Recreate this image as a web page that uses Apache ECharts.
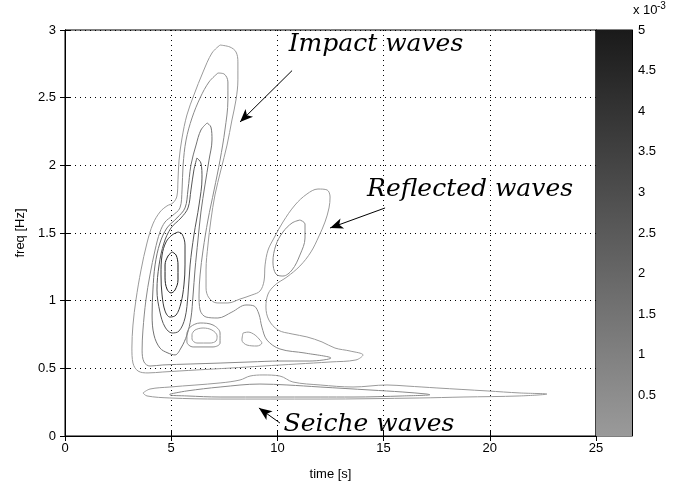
<!DOCTYPE html>
<html><head><meta charset="utf-8">
<script src="https://cdn.jsdelivr.net/npm/echarts@6/dist/echarts.min.js"></script>
<style>html,body{margin:0;padding:0;background:#fff}#c{width:682px;height:489px}</style>
</head><body><div id="c"></div>
<script>
// ---- data (time [s], freq [Hz]) ----
var xTicks = [0, 5, 10, 15, 20, 25];
var yTicks = [0, 0.5, 1, 1.5, 2, 2.5, 3];
var cbTicks = [0.5, 1, 1.5, 2, 2.5, 3, 3.5, 4, 4.5, 5];

// grey of each contour level (lowest level first)
var levelColors = ['#9a9a9a', '#8a8a8a', '#727272', '#565656', '#3a3a3a', '#1e1e1e'];

var c1 = [[7.30,2.889],[7.77,2.874],[8.05,2.838],[8.14,2.764],[8.14,2.631],[8.05,2.483],[7.86,2.335],[7.63,2.150],[7.34,1.966],[7.06,1.781],[6.87,1.596],[6.73,1.411],[6.64,1.227],[6.64,1.094],[6.78,1.020],[7.16,0.983],[7.67,0.983],[8.24,1.012],[8.80,1.042],[9.18,1.071],[9.37,1.145],[9.42,1.264],[9.56,1.374],[9.84,1.463],[10.26,1.581],[10.83,1.707],[11.39,1.788],[11.91,1.825],[12.34,1.818],[12.48,1.766],[12.43,1.685],[12.24,1.581],[11.96,1.478],[11.58,1.360],[11.06,1.256],[10.45,1.175],[9.89,1.116],[9.56,1.049],[9.46,0.953],[9.60,0.857],[10.03,0.783],[10.69,0.754],[11.39,0.732],[12.10,0.695],[12.71,0.650],[13.42,0.628],[14.03,0.599],[13.70,0.562],[12.48,0.547],[10.92,0.532],[9.32,0.517],[7.77,0.502],[6.21,0.488],[4.61,0.473],[3.91,0.466],[3.44,0.480],[3.20,0.539],[3.15,0.650],[3.20,0.820],[3.34,1.005],[3.58,1.227],[3.86,1.426],[4.14,1.567],[4.47,1.655],[4.80,1.700],[5.08,1.722],[5.27,1.773],[5.32,1.892],[5.37,2.039],[5.51,2.202],[5.74,2.372],[6.07,2.520],[6.50,2.690],[6.92,2.830],[7.30,2.889]];
var c2 = [[7.20,2.682],[7.49,2.675],[7.67,2.616],[7.67,2.483],[7.53,2.261],[7.30,2.039],[7.02,1.818],[6.73,1.596],[6.50,1.374],[6.36,1.190],[6.31,1.042],[6.36,0.931],[6.64,0.879],[7.20,0.872],[7.86,0.916],[8.52,0.968],[8.90,0.961],[9.13,0.901],[9.27,0.805],[9.51,0.709],[10.12,0.643],[11.30,0.613],[12.52,0.576],[11.53,0.554],[10.12,0.554],[8.71,0.547],[7.30,0.539],[5.89,0.532],[4.61,0.525],[4.00,0.517],[3.72,0.547],[3.63,0.635],[3.67,0.783],[3.81,1.005],[4.00,1.190],[4.24,1.374],[4.47,1.507],[4.71,1.581],[5.04,1.626],[5.41,1.685],[5.51,1.818],[5.56,2.003],[5.70,2.187],[5.98,2.350],[6.36,2.498],[6.78,2.616],[7.20,2.682]];
var c3 = [[6.69,2.313],[6.87,2.283],[6.92,2.187],[6.78,2.039],[6.59,1.855],[6.40,1.655],[6.26,1.448],[6.12,1.227],[6.03,1.042],[5.93,0.872],[5.74,0.746],[5.46,0.650],[5.18,0.599],[4.85,0.613],[4.47,0.650],[4.19,0.746],[4.10,0.894],[4.14,1.079],[4.24,1.264],[4.47,1.426],[4.80,1.537],[5.27,1.611],[5.65,1.685],[5.79,1.818],[5.93,2.003],[6.17,2.150],[6.40,2.261],[6.69,2.313]];
var c4 = [[6.21,2.054],[6.40,2.017],[6.45,1.906],[6.31,1.707],[6.07,1.485],[5.89,1.264],[5.79,1.042],[5.65,0.872],[5.37,0.776],[5.04,0.761],[4.71,0.805],[4.47,0.916],[4.33,1.079],[4.43,1.264],[4.66,1.426],[4.99,1.537],[5.46,1.611],[5.79,1.685],[5.93,1.818],[6.07,1.966],[6.21,2.054]];
var c5 = [[5.32,1.507],[5.51,1.493],[5.65,1.411],[5.65,1.264],[5.60,1.116],[5.46,0.983],[5.23,0.894],[4.94,0.879],[4.71,0.924],[4.57,1.042],[4.52,1.190],[4.57,1.337],[4.76,1.434],[5.04,1.485],[5.32,1.507]];
var c6 = [[5.04,1.360],[5.23,1.337],[5.32,1.264],[5.32,1.153],[5.18,1.079],[4.99,1.057],[4.80,1.086],[4.71,1.168],[4.71,1.264],[4.85,1.330],[5.04,1.360]];
var reflInner = [[11.06,1.596],[11.30,1.567],[11.30,1.463],[11.06,1.337],[10.69,1.227],[10.26,1.182],[9.93,1.197],[9.79,1.286],[9.93,1.411],[10.26,1.507],[10.69,1.574],[11.06,1.596]];
var loopA = [[5.74,0.761],[5.89,0.805],[6.36,0.835],[6.97,0.820],[7.30,0.761],[7.30,0.687],[6.97,0.658],[6.03,0.658],[5.74,0.695],[5.74,0.761]];
var loopB = [[5.98,0.754],[6.12,0.783],[6.50,0.798],[6.92,0.783],[7.16,0.739],[7.11,0.702],[6.83,0.687],[6.21,0.687],[5.98,0.717],[5.98,0.754]];
var loopC = [[8.38,0.761],[8.62,0.768],[8.95,0.746],[9.18,0.709],[9.27,0.687],[9.04,0.665],[8.57,0.672],[8.33,0.709],[8.38,0.761]];
var seicheOuter = [[3.67,0.318],[4.00,0.347],[4.94,0.362],[7.30,0.392],[8.24,0.414],[8.71,0.443],[9.32,0.451],[10.12,0.443],[10.73,0.399],[12.01,0.377],[13.56,0.362],[15.16,0.377],[16.10,0.369],[17.51,0.355],[19.87,0.333],[21.42,0.318],[22.69,0.310],[21.42,0.296],[18.74,0.288],[16.71,0.281],[12.01,0.273],[7.30,0.273],[4.94,0.281],[3.86,0.296],[3.67,0.318]];
var seicheInner = [[4.94,0.310],[5.74,0.333],[7.30,0.362],[9.18,0.384],[10.45,0.377],[12.01,0.362],[14.36,0.340],[15.91,0.325],[17.04,0.310],[17.18,0.305],[15.91,0.296],[13.56,0.288],[12.01,0.288],[7.30,0.288],[5.74,0.296],[4.94,0.303],[4.94,0.310]];

var contours = [
  {pts: c1, lvl: 0}, {pts: c2, lvl: 1}, {pts: c3, lvl: 2}, {pts: c4, lvl: 3},
  {pts: c5, lvl: 4}, {pts: c6, lvl: 5}, {pts: reflInner, lvl: 1},
  {pts: loopA, lvl: 1}, {pts: loopB, lvl: 0}, {pts: loopC, lvl: 0},
  {pts: seicheOuter, lvl: 0}, {pts: seicheInner, lvl: 1}
];

// annotation arrows: [start, end] in data units
var arrows = [
  [[10.69, 2.70], [8.24, 2.32]],
  [[15.07, 1.685], [12.48, 1.537]],
  [[10.12, 0.096], [9.13, 0.207]]
];
var labels = [
  {text: 'Impact waves', x: 14.64, y: 2.80},
  {text: 'Reflected waves', x: 19.07, y: 1.73},
  {text: 'Seiche waves', x: 14.31, y: -0.005}
];

var chart = echarts.init(document.getElementById('c'), null, {renderer: 'canvas'});
var series = contours.map(function (c) {
  return {
    type: 'line', xAxisIndex: 0, yAxisIndex: 0, data: c.pts, showSymbol: false, smooth: 0.35,
    lineStyle: {color: levelColors[c.lvl], width: 1}, silent: true, z: 3
  };
});
series.push({
  type: 'line', xAxisIndex: 0, yAxisIndex: 0, data: [], silent: true,
  markLine: {
    silent: true, animation: false, symbol: ['none', 'arrow'], symbolSize: [8, 13],
    label: {show: false},
    lineStyle: {color: '#000', width: 1, type: 'solid'},
    data: arrows.map(function (a) { return [{coord: a[0]}, {coord: a[1]}]; })
  }
});
series.push({
  type: 'bar', xAxisIndex: 1, yAxisIndex: 1, data: [5], barWidth: '100%', silent: true,
  itemStyle: {color: new echarts.graphic.LinearGradient(0, 0, 0, 1, [
    {offset: 0, color: '#1a1a1a'}, {offset: 1, color: '#9a9a9a'}])}
});

var axisFont = {fontFamily: 'Liberation Sans, Arial, sans-serif', fontSize: 13, color: '#000'};
var tickOnly = {show: true, lineStyle: {color: '#000'}};
chart.setOption({
  animation: false,
  grid: [
    {left: 65, top: 30, width: 531, height: 406, show: true, borderColor: '#000', borderWidth: 1},
    {left: 596, top: 30, width: 36, height: 406, show: true, borderColor: '#000', borderWidth: 1}
  ],
  xAxis: [
    {type: 'value', gridIndex: 0, min: 0, max: 25, interval: 5, name: 'time [s]', nameLocation: 'middle', nameGap: 32,
     nameTextStyle: axisFont,
     axisLine: tickOnly, axisTick: {inside: true, length: 5, lineStyle: {color: '#000'}},
     axisLabel: Object.assign({margin: 6}, axisFont),
     splitLine: {show: true, lineStyle: {color: '#000', type: [1, 4], width: 1}}},
    {type: 'category', gridIndex: 1, data: [''], show: false},
    {type: 'value', gridIndex: 0, min: 0, max: 25, interval: 5, position: 'top',
     axisLine: tickOnly, axisTick: {inside: true, length: 5, lineStyle: {color: '#000'}},
     axisLabel: {show: false}, splitLine: {show: false}}
  ],
  yAxis: [
    {type: 'value', gridIndex: 0, min: 0, max: 3, interval: 0.5, name: 'freq [Hz]', nameLocation: 'middle', nameGap: 37,
     nameRotate: 90, nameTextStyle: axisFont,
     axisLine: tickOnly, axisTick: {inside: true, length: 5, lineStyle: {color: '#000'}},
     axisLabel: Object.assign({margin: 9}, axisFont),
     splitLine: {show: true, lineStyle: {color: '#000', type: [1, 4], width: 1}}},
    {type: 'value', gridIndex: 1, min: 0, max: 5, interval: 0.5, position: 'right',
     axisLine: tickOnly, axisTick: {inside: true, length: 4, lineStyle: {color: '#000'}},
     axisLabel: Object.assign({margin: 6, formatter: function (v) { return v === 0 ? '' : String(v); }}, axisFont),
     splitLine: {show: false}},
    {type: 'value', gridIndex: 0, min: 0, max: 3, interval: 0.5, position: 'right',
     axisLine: tickOnly, axisTick: {inside: true, length: 5, lineStyle: {color: '#000'}},
     axisLabel: {show: false}, splitLine: {show: false}},
    {type: 'value', gridIndex: 1, min: 0, max: 5, interval: 0.5, position: 'left',
     axisLine: tickOnly, axisTick: {inside: true, length: 4, lineStyle: {color: '#000'}},
     axisLabel: {show: false}, splitLine: {show: false}}
  ],
  series: series
});
var gfx = labels.map(function (l) {
  var p = chart.convertToPixel({gridIndex: 0}, [l.x, l.y]);
  return {type: 'text', x: p[0], y: p[1], z: 10,
    style: {text: l.text, fontSize: 25, fontStyle: 'italic', fontFamily: 'DejaVu Serif, serif', fill: '#000',
      textAlign: 'center', textVerticalAlign: 'bottom'}};
});
gfx.push({type: 'text', x: 633, y: 4, style: {text: 'x 10', fontSize: 13, fontFamily: 'Liberation Sans, Arial, sans-serif', fill: '#000'}});
gfx.push({type: 'text', x: 657, y: 1, style: {text: '-3', fontSize: 10, fontFamily: 'Liberation Sans, Arial, sans-serif', fill: '#000'}});
chart.setOption({graphic: gfx});
</script></body></html>
